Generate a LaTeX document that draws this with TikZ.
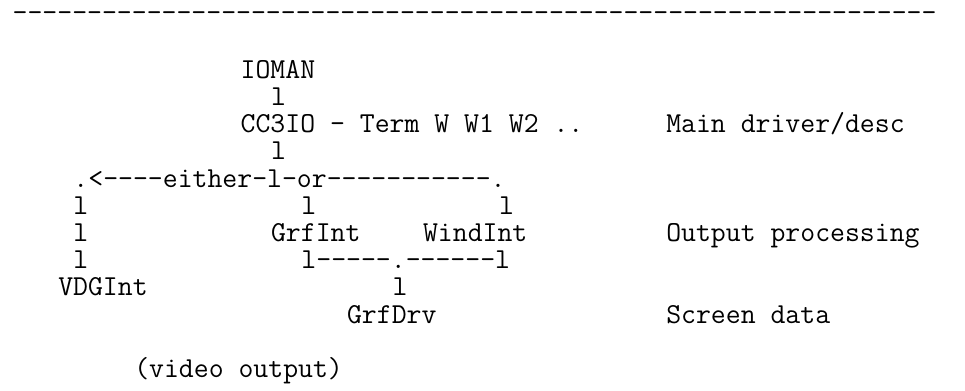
\documentclass[tikz,border=0pt]{standalone}
\usepackage{fontspec}
\usepackage{tikz}
\newfontfamily\chartfont{Latin Modern Mono}[Ligatures=TeXOff]
\newcommand{\cw}{15.2}% column width
\newcommand{\rh}{27.2}% row pitch

\begin{document}
\begin{tikzpicture}[x=0.75pt,y=-0.75pt,
  txt/.style={anchor=base west,inner sep=0pt,font=\chartfont\fontsize{21.7}{23}\selectfont}]
\useasboundingbox (0,0) rectangle (965,391);
\node[txt] (rule) at ({58-3*\cw},22) {--------------------------------------------------------------};
% tree
\node[txt] (ioman)   at ({58+12*\cw},{78.3+0*\rh}) {IOMAN};
\node[txt] (pipeA)   at ({58+14*\cw},{78.3+1*\rh}) {l};
\node[txt] (cc3io)   at ({58+12*\cw},{78.3+2*\rh}) {CC3IO - Term W W1 W2 ..};
\node[txt] (pipeB)   at ({58+14*\cw},{78.3+3*\rh}) {l};
\node[txt] (branch)  at ({58+1*\cw},{78.3+4*\rh}) {.<----either-l-or-----------.};
\node[txt] (pipeV1)  at ({58+1*\cw},{78.3+5*\rh}) {l};
\node[txt] (pipeG)   at ({58+16*\cw},{78.3+5*\rh}) {l};
\node[txt] (pipeW)   at ({58+29*\cw},{78.3+5*\rh}) {l};
\node[txt] (pipeV2)  at ({58+1*\cw},{78.3+6*\rh}) {l};
\node[txt] (grfint)  at ({58+14*\cw},{78.3+6*\rh}) {GrfInt};
\node[txt] (windint) at ({58+24*\cw},{78.3+6*\rh}) {WindInt};
\node[txt] (pipeV3)  at ({58+1*\cw},{78.3+7*\rh}) {l};
\node[txt] (join)    at ({58+16*\cw},{78.3+7*\rh}) {l-----.------l};
\node[txt] (vdgint)  at ({58+0*\cw},{78.3+8*\rh}) {VDGInt};
\node[txt] (pipeD)   at ({58+22*\cw},{78.3+8*\rh}) {l};
\node[txt] (grfdrv)  at ({58+19*\cw},{78.3+9*\rh}) {GrfDrv};
\node[txt] (video)   at ({58+5*\cw},{78.3+11*\rh}) {(video output)};
% right column
\node[txt] (descmain) at ({58+40*\cw},{78.3+2*\rh}) {Main driver/desc};
\node[txt] (descout)  at ({58+40*\cw},{78.3+6*\rh}) {Output processing};
\node[txt] (descscr)  at ({58+40*\cw},{78.3+9*\rh}) {Screen data};
\end{tikzpicture}
\end{document}
